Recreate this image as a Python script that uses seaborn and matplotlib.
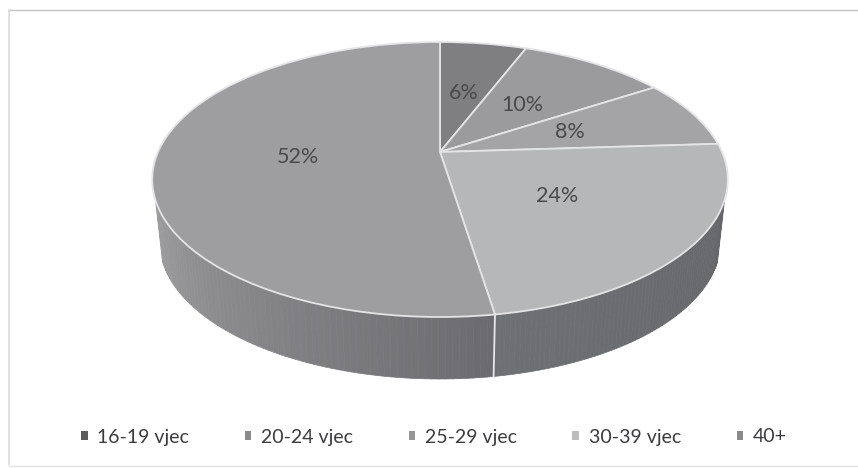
import numpy as np
import matplotlib
matplotlib.use("Agg")
import matplotlib.pyplot as plt
import seaborn as sns
from matplotlib.collections import PolyCollection
from matplotlib.patches import Patch
from matplotlib.transforms import Transform

categories = ["16-19 vjec", "20-24 vjec", "25-29 vjec", "30-39 vjec", "40+"]
values = [5.9, 10.0, 8.1, 23.5, 52.5]
pct_labels = ["6%", "10%", "8%", "24%", "52%"]
top_colors = ["#7f7f81", "#9b9b9d", "#a4a4a6", "#b6b7b9", "#9e9ea0"]
legend_colors = ["#5c5c5c", "#8a8a8a", "#979797", "#bdbdbd", "#8a8a8a"]
wall_start = ["#6c6d71", "#6c6d71", "#6c6d71", "#66676b", "#6c6c70"]
wall_end = ["#6c6d71", "#6c6d71", "#6c6d71", "#6f7074", "#9c9c9e"]

sns.set_theme(style="white")
plt.rcParams["font.family"] = ["Lato", "DejaVu Sans"]

W, H = 858, 468
CX, CY, SX, SY, K = 440.0, 152.0, 282.0, 132.0, 0.2
DEPTH, INSET = 62.0, 0.975
VIS_DEG = 19.8


class Perspective(Transform):
    input_dims = 2
    output_dims = 2

    def transform_non_affine(self, xy):
        xy = np.asarray(xy, dtype=float)
        w = 1 + K * xy[:, 1]
        return np.column_stack((CX + SX * xy[:, 0] / w, CY - SY * xy[:, 1] / w))

    def inverted(self):
        raise NotImplementedError


persp = Perspective()

fig = plt.figure(figsize=(W / 100, H / 100), dpi=100, facecolor="white")
ax = fig.add_axes([0, 0, 1, 1])

palette = sns.color_palette(top_colors)
wedges, texts, autotexts = ax.pie(
    values, colors=palette, startangle=90, counterclock=False, radius=1,
    autopct="%.0f", pctdistance=0.5,
    wedgeprops=dict(edgecolor="#e4e4e6", linewidth=1.3),
    textprops=dict(color="#4a4a4d", fontsize=15.5),
)
ax.set_aspect("auto")
ax.set_xlim(0, W)
ax.set_ylim(H, 0)
ax.axis("off")

for wedge in wedges:
    wedge.set_transform(persp + ax.transData)
    wedge.set_zorder(3)
for text, label in zip(autotexts, pct_labels):
    text.set_text(label)
    text.set_transform(persp + ax.transData)
    text.set_zorder(5)

# side wall of the disc, derived from the same values
vis_hi, vis_lo = -VIS_DEG, -180 + VIS_DEG
edges = 90 - 3.6 * np.cumsum([0] + values)


def rim(theta):
    pts = np.column_stack((np.cos(np.radians(theta)), np.sin(np.radians(theta))))
    top = persp.transform(pts)
    bot = np.column_stack((CX + (top[:, 0] - CX) * INSET, top[:, 1] + DEPTH))
    return top, bot


for i in range(len(values)):
    hi, lo = min(edges[i], vis_hi), max(edges[i + 1], vis_lo)
    if hi <= lo:
        continue
    theta = np.linspace(hi, lo, 70)
    top, bot = rim(theta)
    quads = [[top[j], top[j + 1], bot[j + 1], bot[j]] for j in range(len(theta) - 1)]
    c0 = np.array(matplotlib.colors.to_rgb(wall_start[i]))
    c1 = np.array(matplotlib.colors.to_rgb(wall_end[i]))
    f = np.linspace(0, 1, len(quads))[:, None]
    cols = c0 + (c1 - c0) * f
    ax.add_collection(PolyCollection(quads, facecolors=cols, edgecolors=cols,
                                     linewidths=0.5, zorder=2))
    if vis_lo < edges[i + 1] < vis_hi:
        t, b = rim(np.array([edges[i + 1]]))
        ax.plot([t[0, 0], b[0, 0]], [t[0, 1], b[0, 1]], color="#e8e8ea", lw=1.3, zorder=2.5)

# faint frame of the scanned chart
ax.plot([8, W], [10, 10], color="#c4c4c4", lw=1, zorder=1)
ax.plot([9, 9], [10, 465], color="#dcdcdc", lw=1.2, zorder=1)
ax.plot([9, W], [466, 466], color="#e4e4e4", lw=1, zorder=1)

handles = [Patch(facecolor=c, edgecolor="none") for c in legend_colors]
ax.legend(handles, categories, loc="center", bbox_to_anchor=(434, 437),
          bbox_transform=ax.transData, ncols=5, frameon=False, fontsize=14,
          labelcolor="#3c3c3e", handlelength=0.35, handleheight=0.35,
          handletextpad=0.5, columnspacing=2.85, borderpad=0, borderaxespad=0)

fig.savefig("out.png", dpi=100, facecolor="white")
